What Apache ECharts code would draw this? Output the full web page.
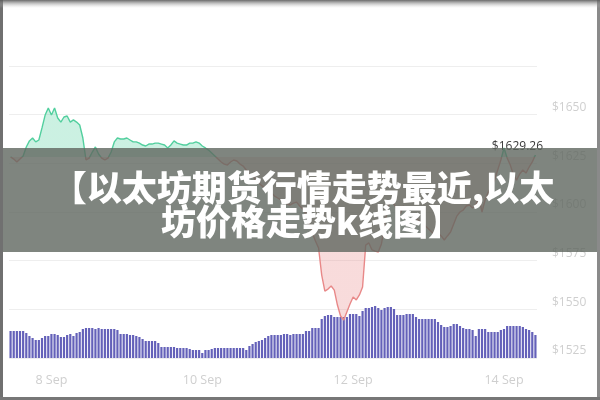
<!DOCTYPE html>
<html><head><meta charset="utf-8">
<script src="https://cdn.jsdelivr.net/npm/echarts@6/dist/echarts.min.js"></script>
<style>html,body{margin:0;padding:0;background:#fff}#c{width:600px;height:400px}</style>
</head><body><div id="c"></div>
<script>
// ---- data ----
const startDay = 7, startHour = 11, hoursCount = 168; // hourly points from 7 Sep 11:00
const tickLabels = ['8 Sep', '10 Sep', '12 Sep', '14 Sep'];
const priceTicks = [1525, 1550, 1575, 1600, 1625, 1650, 1675];
const baselinePrice = 1628.3;
const prices = [
1628.3,1627.2,1625.7,1627.2,1628.8,1633.4,1636.5,1638.0,1636.0,1637.0,
1643.2,1649.8,1653.4,1649.8,1653.4,1648.3,1646.2,1648.8,1649.3,1646.2,
1647.3,1646.2,1644.7,1638.0,1626.7,1627.7,1630.8,1633.4,1629.8,1627.7,
1626.7,1627.7,1630.8,1636.0,1638.0,1637.5,1637.5,1638.0,1637.0,1636.0,
1636.0,1635.4,1634.4,1633.9,1634.9,1634.9,1635.4,1635.4,1634.9,1634.4,
1632.9,1634.4,1636.5,1635.4,1634.9,1634.4,1634.4,1635.4,1635.4,1636.0,
1635.4,1633.9,1632.9,1631.8,1630.3,1628.8,1627.2,1625.7,1624.6,1624.1,
1625.7,1626.7,1626.2,1624.6,1623.6,1621.6,1619.5,1618.5,1616.4,1614.9,
1613.4,1612.3,1610.8,1609.8,1608.2,1607.2,1606.2,1605.1,1604.1,1603.6,
1604.6,1605.1,1603.1,1601.5,1599.0,1593.8,1589.2,1585.1,1581.5,1567.6,
1559.4,1560.4,1562.0,1559.9,1552.2,1546.6,1544.5,1548.6,1552.7,1556.3,
1554.8,1557.4,1561.5,1583.0,1584.1,1580.5,1579.9,1579.4,1583.6,1592.8,
1602.1,1606.2,1604.1,1601.0,1599.0,1603.1,1601.0,1599.5,1597.9,1596.9,
1595.4,1594.3,1592.8,1591.3,1589.7,1587.7,1589.2,1587.7,1585.6,1587.7,
1589.7,1593.8,1597.9,1600.0,1601.0,1603.1,1603.6,1602.1,1603.6,1607.2,
1600.0,1606.2,1610.3,1613.4,1616.4,1621.6,1626.7,1632.9,1627.7,1624.1,
1619.0,1616.4,1619.5,1621.6,1620.0,1623.1,1625.7,1629.26
];
const volumes = [
27,27,27,27,27,25,22,20,18,18,
20,22,22,24,24,23,21,21,23,24,
22,25,26,29,30,30,30,29,30,29,
29,29,29,29,28,24,24,24,23,23,
22,21,19,17,17,17,17,15,11,11,
11,11,11,10,10,10,10,9,8,8,
8,5,8,8,9,10,10,10,10,10,
10,10,10,10,10,8,12,14,16,17,
18,20,22,23,23,23,23,24,24,23,
24,24,24,24,27,27,30,30,30,39,
42,43,43,41,41,41,41,41,44,44,
44,42,47,50,50,51,52,50,48,50,
51,51,49,43,43,43,44,44,44,41,
39,39,39,39,39,39,36,33,31,31,
32,34,34,32,30,29,29,28,22,29,
29,29,26,26,26,26,28,29,32,32,
32,32,32,31,29,28,26,23
];

// hourly category labels
const categories = [];
for (let i = 0; i < hoursCount; i++) {
  const t = startHour + i;
  const d = startDay + Math.floor(t / 24);
  const h = t % 24;
  categories.push(d + ' Sep ' + (h < 10 ? '0' + h : h) + ':00');
}
const dayOf = v => v.split(' ').slice(0, 2).join(' ');

const chart = echarts.init(document.getElementById('c'), null, {renderer: 'canvas'});
const green = '#52cf9e', red = '#e88888';
const axisFont = '"Open Sans", sans-serif';
const yMin = priceTicks[0], yMax = priceTicks[priceTicks.length - 1];

chart.setOption({
  animation: false,
  backgroundColor: '#ffffff',
  grid: [
    {left: 9, right: 63, top: 66, bottom: 42},
    {left: 9, right: 63, top: 258, bottom: 42}
  ],
  xAxis: [
    {
      type: 'category', gridIndex: 0, data: categories, boundaryGap: true,
      axisLine: {show: false}, axisTick: {show: false},
      axisLabel: {
        interval: (i, v) => v.endsWith(' 00:00') && tickLabels.includes(dayOf(v)),
        formatter: v => dayOf(v),
        color: '#cfcfcf', fontSize: 12.5, fontFamily: axisFont, margin: 16
      },
      splitLine: {show: false}
    },
    {
      type: 'category', gridIndex: 1, data: categories, boundaryGap: true,
      show: false
    }
  ],
  yAxis: [
    {
      type: 'value', gridIndex: 0, position: 'right', min: yMin, max: yMax, interval: 25,
      axisLine: {show: false}, axisTick: {show: false},
      axisLabel: {
        formatter: v => (v >= yMax ? '' : '$' + v),
        color: '#cfcfcf', fontSize: 12, fontFamily: axisFont, margin: 15,
        verticalAlign: 'bottom', lineHeight: 14
      },
      splitLine: {lineStyle: {color: '#eeeeee', width: 1}}
    },
    {
      type: 'value', gridIndex: 1, min: 0, max: 100, show: false,
      splitLine: {show: false}
    }
  ],
  visualMap: {
    show: false, seriesIndex: 1, dimension: 1,
    pieces: [
      {gt: yMin - 100, lte: baselinePrice, color: red},
      {gt: baselinePrice, lte: yMax + 100, color: green}
    ]
  },
  series: [
    {
      type: 'bar', xAxisIndex: 1, yAxisIndex: 1, data: volumes,
      barCategoryGap: '30%', itemStyle: {color: '#6461b9'}, z: 2, silent: true
    },
    {
      type: 'line', xAxisIndex: 0, yAxisIndex: 0, data: prices,
      showSymbol: false, symbol: 'none', z: 3,
      lineStyle: {width: 1.4},
      areaStyle: {origin: baselinePrice, opacity: 0.3},
      markPoint: {
        symbol: 'circle', symbolSize: 0,
        data: [{coord: [hoursCount - 1, prices[hoursCount - 1]], value: prices[hoursCount - 1]}],
        label: {
          show: true, formatter: p => '$' + p.value.toFixed(2),
          color: '#3a3a3a', fontSize: 12, fontFamily: axisFont, offset: [-18, -8]
        }
      }
    }
  ],
  graphic: [
    {type: 'rect', z: 100, shape: {x: 0, y: 148, width: 600, height: 104},
     style: {fill: 'rgba(95,103,95,0.8)'}},
    {type: 'text', z: 101, x: 303, y: 188,
     style: {text: '【以太坊期货行情走势最近,以太', fill: '#ffffff', align: 'center', verticalAlign: 'middle',
             font: '900 35px "Noto Sans CJK SC", sans-serif'}},
    {type: 'text', z: 101, x: 312, y: 222,
     style: {text: '坊价格走势k线图】', fill: '#ffffff', align: 'center', verticalAlign: 'middle',
             font: '900 35px "Noto Sans CJK SC", sans-serif'}},
    {type: 'rect', z: 110, shape: {x: 0, y: 0, width: 3, height: 400}, style: {fill: '#707070'}},
    {type: 'rect', z: 110, shape: {x: 597, y: 0, width: 3, height: 400}, style: {fill: '#8a8a8a'}},
    {type: 'rect', z: 110, shape: {x: 0, y: 397, width: 600, height: 3}, style: {fill: '#777777'}},
    {type: 'rect', z: 110, shape: {x: 0, y: 0, width: 600, height: 8},
     style: {fill: new echarts.graphic.LinearGradient(0, 0, 0, 1, [
       {offset: 0, color: 'rgba(90,90,90,0.9)'}, {offset: 1, color: 'rgba(200,200,200,0)'}])}}
  ]
});
</script>
</body></html>
